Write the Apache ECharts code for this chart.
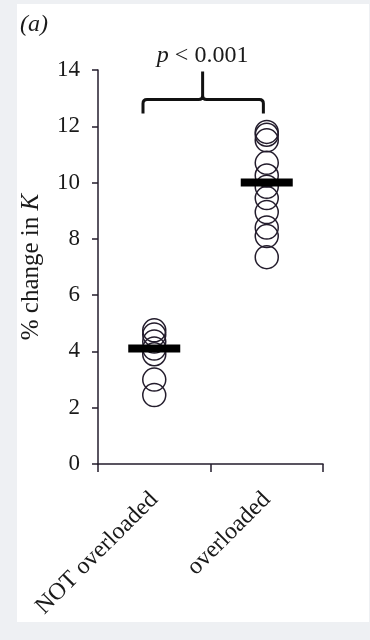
<!DOCTYPE html>
<html><head><meta charset="utf-8">
<script src="https://cdn.jsdelivr.net/npm/echarts@6/dist/echarts.min.js"></script>
<style>html,body{margin:0;padding:0;background:#eef0f3;}#c{width:370px;height:640px;}</style>
</head><body><div id="c"></div>
<script>
const categories = ['NOT overloaded', 'overloaded'];
const notOverloaded = [4.75, 4.6, 4.35, 4.1, 3.9, 3.0, 2.45];
const overloaded = [11.8, 11.7, 11.5, 10.7, 10.25, 9.85, 9.45, 8.95, 8.4, 8.1, 7.35];
const means = [4.1, 10.0];
const yMin = 0, yMax = 14, yStep = 2;
const bracketX = [-0.1, 0.43, 0.97];   // in category units
const bracketY = [12.45, 12.95, 13.95];
const pLabelY = 14.5;

const FONT = 'Liberation Serif';
const INK = '#231c2c';

const chart = echarts.init(document.getElementById('c'), null, {renderer: 'canvas'});

const scatterData = [];
notOverloaded.forEach(v => scatterData.push([0, v]));
overloaded.forEach(v => scatterData.push([1, v]));

chart.setOption({
  backgroundColor: 'transparent',
  animation: false,
  graphic: [{
    type: 'rect', z: -10, silent: true,
    shape: {x: 17, y: 4, width: 352, height: 618},
    style: {fill: '#ffffff'}
  }],
  title: {
    text: '(a)', left: 15, top: 8,
    textStyle: {fontFamily: FONT, fontStyle: 'italic', fontWeight: 'normal', fontSize: 24, color: '#1a1a1a'}
  },
  grid: {left: 98, right: 47, top: 70, bottom: 176, containLabel: false},
  xAxis: {
    type: 'category', data: categories, boundaryGap: true,
    axisLine: {lineStyle: {color: INK, width: 1.5}},
    axisTick: {show: true, length: 8, inside: false, interval: 0, lineStyle: {color: INK, width: 1.5}},
    axisLabel: {interval: 0, rotate: 45, margin: 32, fontFamily: FONT, fontSize: 24, color: '#1a1a1a'},
    splitLine: {show: false}
  },
  yAxis: {
    type: 'value', min: yMin, max: yMax, interval: yStep,
    name: '% change in {i|K}', nameLocation: 'middle', nameRotate: 90, nameGap: 54,
    nameTextStyle: {fontFamily: FONT, fontSize: 25, color: '#1a1a1a',
      rich: {i: {fontFamily: FONT, fontSize: 25, fontStyle: 'italic', color: '#1a1a1a'}}},
    axisLine: {show: true, lineStyle: {color: INK, width: 1.5}},
    axisTick: {show: true, length: 6, inside: false, lineStyle: {color: INK, width: 1.5}},
    axisLabel: {margin: 18, fontFamily: FONT, fontSize: 23, color: '#1a1a1a'},
    splitLine: {show: false}
  },
  series: [
    {
      type: 'scatter', data: scatterData, symbol: 'circle', symbolSize: 23, z: 2,
      itemStyle: {color: 'rgba(255,255,255,0)', borderColor: INK, borderWidth: 1.5, opacity: 1}
    },
    {
      type: 'scatter', data: means.map((v, i) => [i, v]), symbol: 'rect', symbolSize: [52, 8], z: 3,
      itemStyle: {color: '#000000', opacity: 1}
    },
    {
      type: 'custom', z: 4, silent: true,
      data: [[0, bracketY[1]]],
      renderItem: function (params, api) {
        const toPx = (cx, v) => {
          const a = api.coord([0, v]);
          const b = api.coord([1, v]);
          return [a[0] + (b[0] - a[0]) * cx, a[1]];
        };
        const L = toPx(bracketX[0], bracketY[0]);
        const C = toPx(bracketX[1], bracketY[1]);
        const T = toPx(bracketX[1], bracketY[2]);
        const R = toPx(bracketX[2], bracketY[0]);
        const P = toPx(bracketX[1], pLabelY);
        const yh = C[1], r = 4;
        const d =
          'M' + L[0] + ' ' + L[1] +
          ' L' + L[0] + ' ' + (yh + r) +
          ' Q' + L[0] + ' ' + yh + ' ' + (L[0] + r) + ' ' + yh +
          ' L' + (C[0] - r) + ' ' + yh +
          ' Q' + C[0] + ' ' + yh + ' ' + C[0] + ' ' + (yh - r) +
          ' L' + C[0] + ' ' + T[1] +
          ' M' + C[0] + ' ' + (yh - r) +
          ' Q' + C[0] + ' ' + yh + ' ' + (C[0] + r) + ' ' + yh +
          ' L' + (R[0] - r) + ' ' + yh +
          ' Q' + R[0] + ' ' + yh + ' ' + R[0] + ' ' + (yh + r) +
          ' L' + R[0] + ' ' + R[1];
        return {
          type: 'group',
          children: [
            {type: 'path', shape: {pathData: d}, style: {stroke: '#111111', lineWidth: 3, fill: null}},
            {type: 'text', x: P[0], y: P[1], style: {
              text: '{i|p} < 0.001', align: 'center', verticalAlign: 'middle',
              fontFamily: FONT, fontSize: 24, fill: '#1a1a1a',
              rich: {i: {fontFamily: FONT, fontSize: 24, fontStyle: 'italic', fill: '#1a1a1a'}}
            }}
          ]
        };
      }
    }
  ]
});
</script>
</body></html>
